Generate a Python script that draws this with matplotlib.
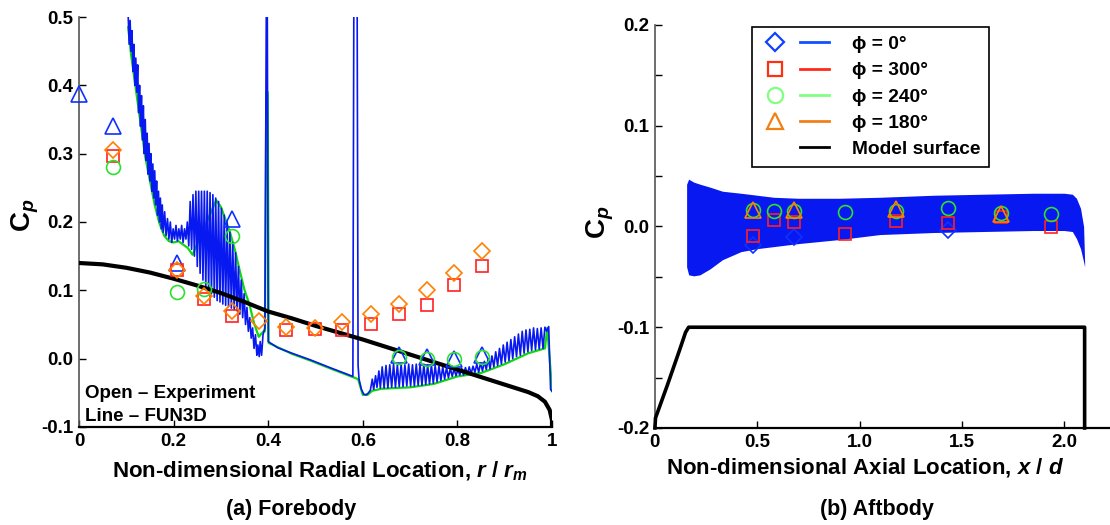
import numpy as np
import matplotlib
matplotlib.use("Agg")
import matplotlib.pyplot as plt
from matplotlib.lines import Line2D
from matplotlib.legend_handler import HandlerTuple

plt.rcParams['font.family'] = ['Liberation Sans', 'DejaVu Sans']
plt.rcParams['font.weight'] = 'bold'
plt.rcParams['mathtext.fontset'] = 'custom'
plt.rcParams['mathtext.rm'] = 'Liberation Sans:bold'
plt.rcParams['mathtext.bf'] = 'Liberation Sans:bold'
plt.rcParams['mathtext.it'] = 'Liberation Sans:italic:bold'

# ---- forebody experiment (r / r_m, Cp) ----
fore_r_0 = [0.0, 0.072, 0.207, 0.324, 0.676, 0.735, 0.792, 0.852]
fore_cp_0 = [0.387, 0.34, 0.14, 0.205, 0.005, 0.002, 0.0, 0.005]
fore_r_300 = [0.072, 0.207, 0.265, 0.324, 0.438, 0.498, 0.557, 0.618, 0.676, 0.735, 0.792, 0.852]
fore_cp_300 = [0.297, 0.13, 0.088, 0.063, 0.042, 0.043, 0.042, 0.051, 0.066, 0.079, 0.108, 0.136]
fore_r_240 = [0.072, 0.207, 0.265, 0.324, 0.676, 0.735, 0.792, 0.852]
fore_cp_240 = [0.28, 0.097, 0.102, 0.179, 0.002, 0.0, 0.0, 0.002]
fore_r_180 = [0.072, 0.207, 0.265, 0.324, 0.381, 0.438, 0.498, 0.557, 0.618, 0.676, 0.735, 0.792, 0.852]
fore_cp_180 = [0.305, 0.13, 0.092, 0.07, 0.055, 0.047, 0.045, 0.053, 0.065, 0.08, 0.101, 0.125, 0.157]

# ---- forebody FUN3D, phi = 0 ----
cfd_r_0 = [0.104, 0.106, 0.108, 0.110, 0.112, 0.114, 0.116, 0.118, 0.120, 0.122,
           0.124, 0.126, 0.128, 0.130, 0.132, 0.134, 0.136, 0.138, 0.140, 0.142,
           0.144, 0.146, 0.148, 0.150, 0.152, 0.154, 0.156, 0.158, 0.160, 0.162,
           0.164, 0.166, 0.168, 0.170, 0.172, 0.174, 0.176, 0.178, 0.181, 0.184,
           0.187, 0.190, 0.193, 0.196, 0.199, 0.202, 0.205, 0.208, 0.211, 0.214,
           0.217, 0.220, 0.223, 0.226, 0.229, 0.232,
           0.235, 0.238, 0.241, 0.244, 0.247, 0.250, 0.253, 0.256, 0.259, 0.262,
           0.265, 0.268, 0.271, 0.274, 0.277, 0.280, 0.283, 0.286, 0.289, 0.292,
           0.295, 0.298, 0.301, 0.304, 0.307, 0.310, 0.313, 0.316, 0.319, 0.322,
           0.325, 0.328, 0.331, 0.334, 0.337, 0.340, 0.343, 0.346, 0.349, 0.352,
           0.355, 0.358, 0.361, 0.364, 0.367, 0.370, 0.373, 0.376, 0.378, 0.381,
           0.383, 0.386, 0.389, 0.393, 0.396, 0.398, 0.400,
           0.42, 0.45, 0.49, 0.53, 0.579, 0.581, 0.588, 0.590,
           0.592, 0.597, 0.602, 0.607, 0.612, 0.616, 0.620, 0.623, 0.627, 0.630,
           0.634, 0.637,
           0.641, 0.645, 0.649, 0.653, 0.657, 0.661, 0.665, 0.669, 0.673, 0.677,
           0.681, 0.685, 0.689, 0.693, 0.697, 0.701, 0.705, 0.709, 0.713, 0.717,
           0.721, 0.725, 0.729, 0.733, 0.737, 0.741, 0.745, 0.749, 0.753, 0.757,
           0.761, 0.765, 0.769, 0.773, 0.777, 0.781, 0.785, 0.789, 0.793, 0.797,
           0.801, 0.805, 0.809, 0.813, 0.817, 0.821, 0.825, 0.829, 0.833, 0.837,
           0.841, 0.845, 0.849, 0.853, 0.857, 0.861, 0.865, 0.869, 0.873, 0.877,
           0.881, 0.885, 0.889, 0.893, 0.897, 0.901, 0.905, 0.909, 0.913, 0.917,
           0.921, 0.925, 0.929, 0.933, 0.937, 0.941, 0.945, 0.949, 0.953, 0.957,
           0.961, 0.965, 0.969, 0.973, 0.977, 0.981, 0.985, 0.989, 0.993, 0.997,
           1.0]
cfd_cp_0 = [0.50, 0.46, 0.495, 0.45, 0.48, 0.42, 0.46, 0.40, 0.44, 0.39,
            0.43, 0.36, 0.40, 0.34, 0.385, 0.32, 0.37, 0.30, 0.35, 0.29,
            0.33, 0.27, 0.315, 0.26, 0.30, 0.245, 0.285, 0.235, 0.275, 0.225,
            0.26, 0.21, 0.245, 0.20, 0.235, 0.19, 0.225, 0.185, 0.215, 0.18,
            0.205, 0.175, 0.20, 0.17, 0.19, 0.175, 0.195, 0.172, 0.19, 0.175,
            0.195, 0.17, 0.19, 0.175, 0.20, 0.165,
            0.23, 0.16, 0.24, 0.15, 0.245, 0.135, 0.245, 0.125, 0.245, 0.115,
            0.245, 0.105, 0.245, 0.10, 0.243, 0.095, 0.24, 0.09, 0.235, 0.085,
            0.23, 0.083, 0.22, 0.08, 0.21, 0.078, 0.20, 0.076, 0.185, 0.074,
            0.17, 0.072, 0.155, 0.07, 0.135, 0.065, 0.115, 0.06, 0.095, 0.05,
            0.075, 0.04, 0.06, 0.03, 0.045, 0.015, 0.035, 0.005, 0.02, 0.003,
            0.025, 0.005, 0.035, 0.045, 0.52, 0.52, 0.025,
            0.016, 0.008, -0.002, -0.013, -0.026, 0.52, 0.52, -0.01,
            -0.03, -0.045, -0.052, -0.053, -0.05, -0.046, -0.03, -0.045, -0.025, -0.042,
            -0.018, -0.043,
            -0.012, -0.043, -0.010, -0.043, -0.009, -0.042, -0.008, -0.042, -0.009, -0.041,
            -0.008, -0.041, -0.009, -0.040, -0.008, -0.040, -0.009, -0.040, -0.008, -0.039,
            -0.009, -0.039, -0.008, -0.038, -0.009, -0.037, -0.009, -0.036, -0.010, -0.034,
            -0.011, -0.032, -0.012, -0.030, -0.013, -0.028, -0.014, -0.026, -0.015, -0.025,
            -0.016, -0.024, -0.014, -0.024, -0.013, -0.023, -0.012, -0.022, -0.011, -0.020,
            -0.008, -0.020, -0.006, -0.018, -0.004, -0.016, 0.0, -0.015, 0.004, -0.012,
            0.010, -0.010, 0.015, -0.008, 0.020, -0.005, 0.024, -0.003, 0.028, 0.0,
            0.032, 0.003, 0.036, 0.005, 0.040, 0.008, 0.042, 0.010, 0.043, 0.012,
            0.045, 0.013, 0.044, 0.014, 0.045, 0.015, 0.046, 0.040, 0.047, -0.045,
            -0.048]

# ---- forebody FUN3D, phi = 240 (mostly hidden under phi = 0) ----
cfd_r_240 = [0.104, 0.11, 0.12, 0.13, 0.14, 0.15, 0.16, 0.17, 0.18, 0.19, 0.20, 0.21,
             0.22, 0.23, 0.24, 0.29, 0.30, 0.31, 0.32, 0.33, 0.34, 0.35, 0.36, 0.37,
             0.38, 0.39, 0.393, 0.396, 0.399, 0.401, 0.45, 0.49, 0.53, 0.579, 0.59,
             0.60, 0.61, 0.62, 0.64, 0.70, 0.75, 0.80, 0.85, 0.90, 0.95, 0.985, 0.99, 1.0]
cfd_cp_240 = [0.485, 0.445, 0.395, 0.345, 0.295, 0.26, 0.225, 0.198, 0.18, 0.172, 0.17, 0.172,
              0.167, 0.162, 0.152, 0.232, 0.222, 0.203, 0.183, 0.158, 0.128, 0.10, 0.08, 0.052,
              0.032, 0.04, 0.04, 0.39, 0.39, 0.023, 0.007, -0.003, -0.014, -0.027, -0.03,
              -0.053, -0.053, -0.047, -0.044, -0.042, -0.037, -0.026, -0.021, -0.008, 0.008,
              0.015, 0.045, -0.045]

# ---- forebody model surface ----
surf_r = [0.0, 0.05, 0.10, 0.15, 0.20, 0.25, 0.30, 0.35, 0.40, 0.45, 0.50, 0.55, 0.60,
          0.65, 0.70, 0.75, 0.80, 0.85, 0.90, 0.95, 0.97, 0.985, 0.995, 1.0, 1.0]
surf_cp = [0.14, 0.138, 0.133, 0.126, 0.117, 0.107, 0.096, 0.083, 0.069, 0.059, 0.048,
           0.038, 0.028, 0.017, 0.006, -0.005, -0.016, -0.027, -0.038, -0.049, -0.055,
           -0.063, -0.075, -0.09, -0.1]

# ---- aftbody experiment (x / d, Cp) ----
aft_x = [0.48, 0.58, 0.68, 0.93, 1.18, 1.43, 1.69, 1.935]
aft_cp_300 = [-0.009, 0.006, 0.004, -0.007, 0.005, 0.003, 0.009, -0.001]
aft_cp_240 = [0.016, 0.015, 0.015, 0.014, 0.015, 0.018, 0.013, 0.012]
aft_x_180 = [0.48, 0.68, 1.18, 1.69]
aft_cp_180 = [0.016, 0.016, 0.017, 0.012]
aft_x_0 = [0.48, 0.68, 1.43]
aft_cp_0 = [-0.018, -0.01, -0.003]

# ---- aftbody FUN3D band (envelope of the oscillating trace) ----
band_x = [0.155, 0.165, 0.19, 0.22, 0.27, 0.33, 0.42, 0.50, 0.58, 0.70, 0.90, 1.10,
          1.36, 1.60, 1.85, 2.00, 2.04, 2.06, 2.08, 2.095, 2.10]
band_hi = [0.042, 0.047, 0.044, 0.042, 0.039, 0.035, 0.033, 0.031, 0.029, 0.028, 0.028,
           0.029, 0.031, 0.032, 0.033, 0.033, 0.032, 0.028, 0.018, 0.0, -0.035]
band_lo = [-0.04, -0.048, -0.049, -0.048, -0.042, -0.033, -0.025, -0.022, -0.02, -0.017,
           -0.013, -0.008, -0.006, -0.005, -0.004, -0.004, -0.005, -0.012, -0.022, -0.035, -0.04]

# ---- aftbody model surface ----
aft_surf_x = [0.0, 0.003, 0.06, 0.12, 0.15, 0.165, 0.18, 2.10, 2.10]
aft_surf_cp = [-0.2, -0.19, -0.158, -0.123, -0.105, -0.1, -0.1, -0.1, -0.2]

c_blue = '#1030ff'
c_red = '#ff2020'
c_green = '#2ee02e'
c_orange = '#ff8000'
c_cfd = '#0818f0'
c_cfd_g = '#10d810'

fig = plt.figure(figsize=(11.1, 5.25), dpi=100)
ax1 = fig.add_axes([0.0712, 0.1867, 0.4261, 0.7809])
ax2 = fig.add_axes([0.590, 0.1848, 0.41, 0.7676])

mk = dict(linestyle='none', markerfacecolor='none', markeredgewidth=1.2, zorder=4)

# forebody
ax1.plot(cfd_r_240, cfd_cp_240, color=c_cfd_g, lw=1.6, zorder=2)
ax1.plot(cfd_r_0, cfd_cp_0, color=c_cfd, lw=1.2, zorder=2)
ax1.plot(surf_r, surf_cp, color='black', lw=3, zorder=3)
ax1.plot(fore_r_0, fore_cp_0, marker='^', ms=11, markeredgecolor=c_blue, clip_on=False, **mk)
ax1.plot(fore_r_300, fore_cp_300, marker='s', ms=8.5, markeredgecolor=c_red, **mk)
ax1.plot(fore_r_240, fore_cp_240, marker='o', ms=10, markeredgecolor=c_green, **mk)
ax1.plot(fore_r_180, fore_cp_180, marker='D', ms=8, markeredgecolor=c_orange, **mk)
ax1.set_xlim(0, 1)
ax1.set_ylim(-0.1, 0.5)
ax1.set_xticks([0, 0.2, 0.4, 0.6, 0.8, 1.0])
ax1.set_xticklabels(['0', '0.2', '0.4', '0.6', '0.8', '1'])
ax1.set_yticks([-0.1, 0.0, 0.1, 0.2, 0.3, 0.4, 0.5])
ax1.set_yticklabels(['-0.1', '0.0', '0.1', '0.2', '0.3', '0.4', '0.5'])
ax1.text(0.012, -0.058, 'Open \u2013 Experiment', fontsize=13.5, fontweight='bold')
ax1.text(0.012, -0.091, 'Line \u2013 FUN3D', fontsize=13.5, fontweight='bold')

# aftbody
ax2.fill_between(band_x, band_lo, band_hi, color=c_cfd, lw=0, zorder=2)
ax2.plot(aft_surf_x, aft_surf_cp, color='black', lw=2.6, zorder=3, clip_on=False)
ax2.plot(aft_x_0, aft_cp_0, marker='D', ms=8, markeredgecolor=c_blue, **mk)
ax2.plot(aft_x, aft_cp_300, marker='s', ms=8.5, markeredgecolor=c_red, **mk)
ax2.plot(aft_x, aft_cp_240, marker='o', ms=10, markeredgecolor=c_green, **mk)
ax2.plot(aft_x_180, aft_cp_180, marker='^', ms=11, markeredgecolor=c_orange, **mk)
ax2.set_xlim(0, 2.224)
ax2.set_ylim(-0.2, 0.2)
ax2.set_xticks([0, 0.5, 1.0, 1.5, 2.0])
ax2.set_xticklabels(['0', '0.5', '1.0', '1.5', '2.0'])
ax2.set_yticks([-0.2, -0.1, 0.0, 0.1, 0.2])
ax2.set_yticklabels(['-0.2', '-0.1', '0.0', '0.1', '0.2'])
ax2.set_yticks([-0.15, -0.05, 0.05, 0.15], minor=True)

for ax in (ax1, ax2):
    ax.spines['top'].set_visible(False)
    ax.spines['right'].set_visible(False)
    ax.spines['left'].set_color('#555555')
    ax.spines['left'].set_linewidth(1.2)
    ax.spines['bottom'].set_color('black')
    ax.spines['bottom'].set_linewidth(1.6)
    ax.tick_params(direction='in', length=5, width=1, labelsize=13.5, pad=4)
    ax.tick_params(which='minor', direction='in', length=5, width=1)
    for lab in ax.get_xticklabels() + ax.get_yticklabels():
        lab.set_fontweight('bold')

# legend
h_line = lambda c: Line2D([], [], color=c, lw=2)
h_mark = lambda m, c, s: Line2D([], [], linestyle='none', marker=m, ms=s,
                                markerfacecolor='none', markeredgecolor=c, markeredgewidth=1.6)
handles = [(h_mark('D', '#1040ff', 9), h_line('#1050ff')),
           (h_mark('s', '#ff3010', 10), h_line('#ff2a1a')),
           (h_mark('o', '#80ff80', 11), h_line('#80ff80')),
           (h_mark('^', '#f08010', 12), h_line('#f0801a')),
           (Line2D([], [], linestyle='none'), h_line('black'))]
labels = ['\u03d5 = 0\u00b0', '\u03d5 = 300\u00b0', '\u03d5 = 240\u00b0', '\u03d5 = 180\u00b0',
          'Model surface']
leg = ax2.legend(handles, labels, loc='upper left', bbox_to_anchor=(0.213, 0.995),
                 borderaxespad=0, handler_map={tuple: HandlerTuple(ndivide=None, pad=0.5)},
                 handlelength=3.6, handletextpad=1.15, labelspacing=0.46, borderpad=0.45,
                 fancybox=False, framealpha=1, edgecolor='black',
                 prop={'size': 13.8, 'weight': 'bold'})
leg.get_frame().set_linewidth(1.2)

# labels
fig.text(0.0225, 0.59, r'$\mathbf{C}_{p}$', fontsize=20, rotation=90, ha='center', va='center')
fig.text(0.541, 0.577, r'$\mathbf{C}_{p}$', fontsize=20, rotation=90, ha='center', va='center')
fig.text(0.288, 0.0914, r'Non-dimensional Radial Location, $r$ / $r_m$',
         fontsize=16, fontweight='bold', ha='center', va='baseline')
fig.text(0.779, 0.099, r'Non-dimensional Axial Location, $x$ / $d$',
         fontsize=16, fontweight='bold', ha='center', va='baseline')
fig.text(0.262, 0.019, '(a) Forebody', fontsize=15.5, fontweight='bold', ha='center', va='baseline')
fig.text(0.790, 0.019, '(b) Aftbody', fontsize=15.5, fontweight='bold', ha='center', va='baseline')

fig.savefig('out.png', dpi=100)
